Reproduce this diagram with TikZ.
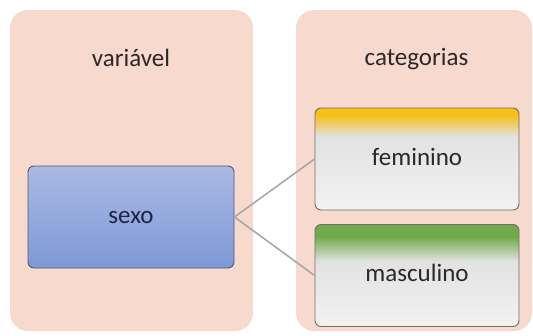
\documentclass[tikz,border=0pt]{standalone}
\usepackage{fontspec}
\setmainfont{Carlito}
\usetikzlibrary{positioning}

% panel and box colours
\definecolor{panelfill}{RGB}{247,217,205}
\definecolor{blueTop}{RGB}{170,185,228}
\definecolor{blueBot}{RGB}{126,153,214}
\definecolor{blueEdge}{RGB}{80,88,120}
\definecolor{grayTop}{RGB}{226,226,226}
\definecolor{grayBot}{RGB}{242,242,242}
\definecolor{boxEdge}{RGB}{110,110,110}
\definecolor{amber}{RGB}{245,192,24}
\definecolor{leaf}{RGB}{112,170,74}
\definecolor{linkgray}{RGB}{168,168,168}
\definecolor{inkdark}{RGB}{45,40,40}
\definecolor{inknavy}{RGB}{30,36,70}

% header bands fading into light gray (the 25bp..75bp band spans the box)
\pgfdeclareverticalshading{amberfade}{100bp}{%
  color(0bp)=(grayBot); color(25bp)=(grayBot); color(61bp)=(grayTop);
  color(71.5bp)=(amber); color(75bp)=(amber); color(100bp)=(amber)}
\pgfdeclareverticalshading{leaffade}{100bp}{%
  color(0bp)=(grayBot); color(25bp)=(grayBot); color(57bp)=(grayTop);
  color(69bp)=(leaf); color(75bp)=(leaf); color(100bp)=(leaf)}

\tikzset{
  panel/.style={fill=panelfill, rounded corners=18pt, inner sep=0pt},
  title/.style={font=\fontsize{25}{30}\selectfont, text=inkdark, anchor=base, inner sep=0pt},
  itembox/.style={draw=boxEdge, line width=0.9pt, rounded corners=6pt,
    minimum width=204pt, minimum height=102pt, inner sep=0pt,
    text height=12pt, text depth=0pt,
    font=\fontsize{25}{30}\selectfont, text=inkdark},
  varbox/.style={itembox, draw=blueEdge, top color=blueTop, bottom color=blueBot,
    minimum width=206pt, text=inknavy},
  link/.style={draw=linkgray, line width=1.6pt}
}

\begin{document}
\begin{tikzpicture}[x=1pt, y=-1pt]
  \useasboundingbox (0,0) rectangle (533,335);

  % two background panels
  \node[panel, minimum width=243pt, minimum height=321pt] (leftpanel) at (131.5,170.5) {};
  \node[panel, minimum width=236pt, minimum height=321pt] (rightpanel) at (414,170.5) {};

  % panel titles
  \node[title] (vartitle) at (131,66) {variável};
  \node[title] (cattitle) at (416.5,65) {categorias};

  % variable and its categories
  \node[varbox] (sexo) at (131,217) {sexo};
  \node[itembox, shading=amberfade] (fem) at (417,159) {feminino};
  \node[itembox, shading=leaffade] (masc) at (417,275.5) {masculino};

  % connectors
  \draw[link] (sexo.east) -- (fem.west);
  \draw[link] (sexo.east) -- (masc.west);
\end{tikzpicture}
\end{document}
